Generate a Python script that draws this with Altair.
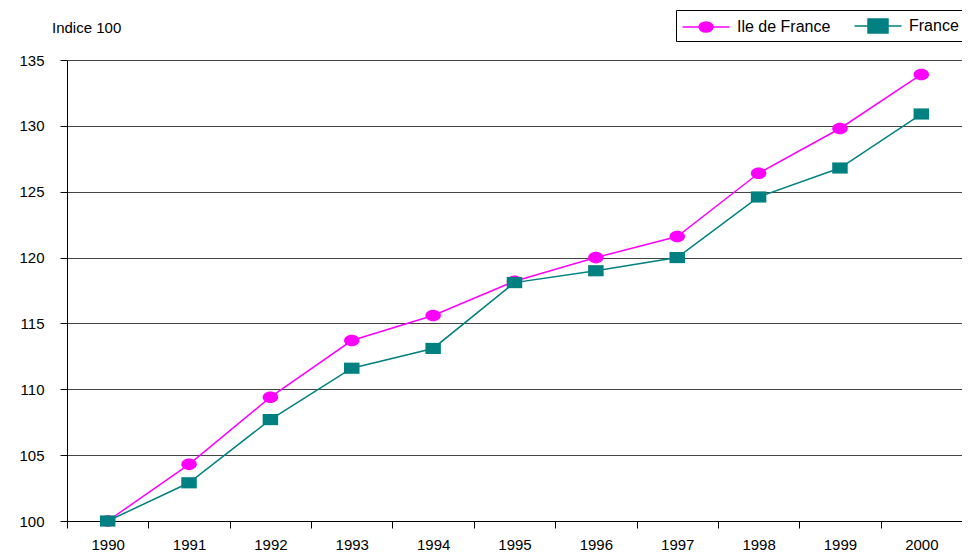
import altair as alt
import pandas as pd

years = ["1990", "1991", "1992", "1993", "1994", "1995", "1996", "1997", "1998", "1999", "2000"]
ile_de_france = [100.0, 104.3, 109.4, 113.7, 115.6, 118.2, 120.0, 121.6, 126.4, 129.8, 133.9]
france = [100.0, 102.9, 107.7, 111.6, 113.1, 118.1, 119.0, 120.0, 124.6, 126.8, 130.9]
series_names = ["Ile de France", "France"]
colors = ["#FF00FF", "#008080"]
y_ticks = [100, 105, 110, 115, 120, 125, 130, 135]

df = pd.DataFrame({
    "year": years + years,
    "series": [series_names[0]] * len(years) + [series_names[1]] * len(years),
    "value": ile_de_france + france,
})

FONT = "Liberation Sans"

marker_paths = [
    "M-1,0A1,0.75,0,1,1,1,0A1,0.75,0,1,1,-1,0Z",
    "M-1,-0.72H1V0.72H-1Z",
]
legend_paths = [
    "M-2.35,0H2.35M-0.7,0A0.7,0.5,0,1,1,0.7,0A0.7,0.5,0,1,1,-0.7,0Z",
    "M-2.35,0H2.35M-1,-0.7H1V0.7H-1Z",
]

x_enc = alt.X(
    "year:O",
    sort=years,
    scale=alt.Scale(type="band", paddingInner=0, paddingOuter=0),
    axis=alt.Axis(
        title=None, labelAngle=0, tickBand="extent", tickSize=7,
        labelPadding=9, domainColor="black", tickColor="black", grid=False,
    ),
)
y_enc = alt.Y(
    "value:Q",
    scale=alt.Scale(domain=[100, 135], nice=False, zero=False),
    axis=alt.Axis(
        title=None, values=y_ticks, tickSize=7, labelPadding=16,
        grid=True, gridColor="#444", gridWidth=1,
        domainColor="black", tickColor="black",
    ),
)

base = alt.Chart(df)

lines = base.mark_line(strokeWidth=1.5).encode(
    x=x_enc, y=y_enc,
    color=alt.Color("series:N", scale=alt.Scale(domain=series_names, range=colors), legend=None),
    detail="series:N",
)

points = base.mark_point(filled=True, opacity=1).encode(
    x=x_enc, y=y_enc,
    color=alt.Color("series:N", scale=alt.Scale(domain=series_names, range=colors), legend=None),
    shape=alt.Shape("series:N", scale=alt.Scale(domain=series_names, range=marker_paths), legend=None),
    size=alt.value(240),
)

leg = alt.Legend(
    title=None, orient="none", legendX=609, legendY=-50, direction="horizontal",
    symbolSize=400, symbolStrokeWidth=1.5, symbolOffset=14,
    labelFont=FONT, labelFontSize=16, labelColor="black",
    columnPadding=20, padding=5, strokeColor="black",
    fillColor="white", labelOffset=20,
)

legend_layer = base.transform_filter("false").mark_point(filled=True, opacity=1).encode(
    x=x_enc, y=y_enc,
    color=alt.Color("series:N", scale=alt.Scale(domain=series_names, range=colors), legend=leg),
    stroke=alt.Stroke("series:N", scale=alt.Scale(domain=series_names, range=colors), legend=leg),
    shape=alt.Shape("series:N", scale=alt.Scale(domain=series_names, range=legend_paths), legend=leg),
)

chart = alt.layer(lines, points, legend_layer).resolve_scale(
    shape="independent", color="independent", stroke="independent"
).properties(
    width=895,
    height=461,
    title=alt.TitleParams(
        "Indice 100", anchor="start", frame="group", dx=-15, dy=26, offset=0,
        font=FONT, fontSize=15, fontWeight="normal", color="black",
    ),
    autosize="none",
    padding={"left": 59, "top": 52, "right": 0, "bottom": 30},
).configure_view(stroke=None).configure_axis(
    labelFont=FONT, labelFontSize=15, labelColor="black",
)

chart.save("out.html", embed_options={"renderer": "svg", "actions": False})
